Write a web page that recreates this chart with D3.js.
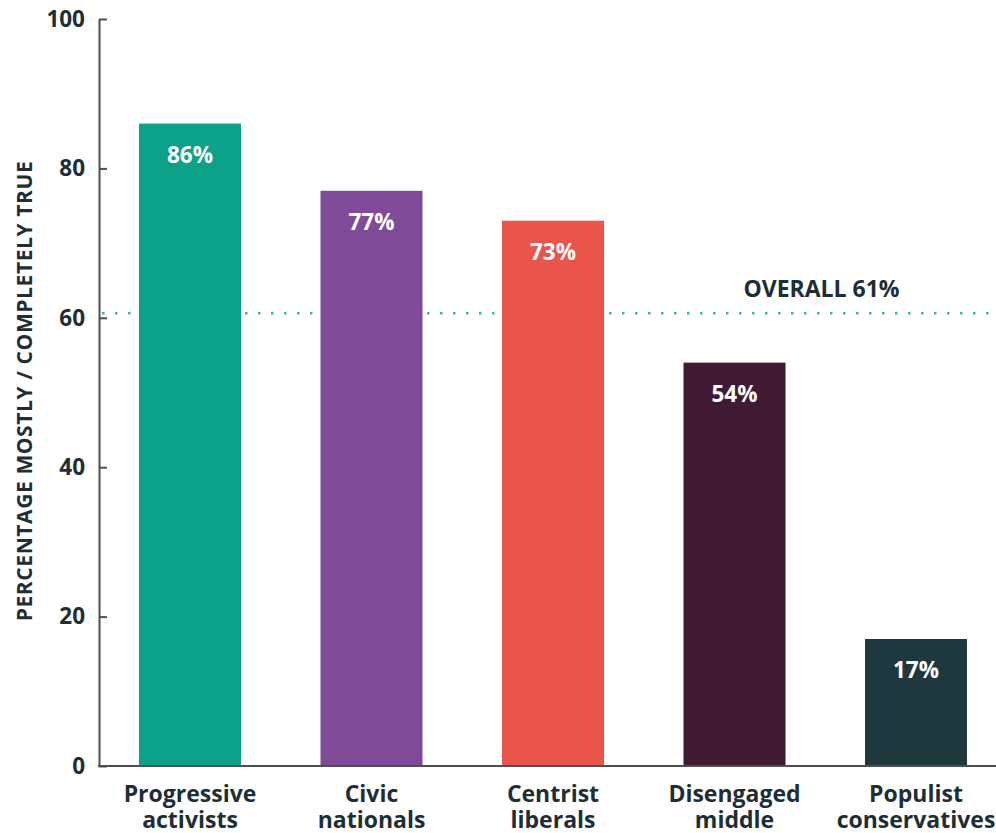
<!DOCTYPE html>
<html>
<head>
<meta charset="utf-8">
<script src="https://cdn.jsdelivr.net/npm/d3@7"></script>
<style>
  html, body { margin: 0; padding: 0; background: #fff; }
  svg { display: block; font-family: "Open Sans", "Noto Sans", sans-serif; }
</style>
</head>
<body>
<svg id="chart" width="996" height="833"></svg>
<script>
const categories = ["Progressive activists", "Civic nationals", "Centrist liberals", "Disengaged middle", "Populist conservatives"];
const labelLines = [["Progressive", "activists"], ["Civic", "nationals"], ["Centrist", "liberals"], ["Disengaged", "middle"], ["Populist", "conservatives"]];
const values = [86, 77, 73, 54, 17];
const colors = ["#0ca189", "#7f4a97", "#ea554b", "#3f1a32", "#1f383e"];
const yTicks = [0, 20, 40, 60, 80, 100];
const overall = 60.6;
const overallLabel = "OVERALL 61%";
const yTitle = "PERCENTAGE MOSTLY / COMPLETELY TRUE";

const textColor = "#1e2e34";
const svg = d3.select("#chart");

const y = d3.scaleLinear().domain([0, 100]).range([766, 19]);
const x = d3.scaleBand().domain(categories)
  .range([99.25, 1006.75]).paddingInner(0.438).paddingOuter(0.219);

// overall dotted line (behind bars)
svg.append("line")
  .attr("x1", 102).attr("x2", 996)
  .attr("y1", y(overall)).attr("y2", y(overall))
  .attr("stroke", "#3db3a1").attr("stroke-width", 2.5)
  .attr("stroke-dasharray", "2.5,10.5");

// bars
svg.selectAll("rect.bar").data(values).join("rect")
  .attr("class", "bar")
  .attr("x", (d, i) => x(categories[i]))
  .attr("width", x.bandwidth())
  .attr("y", d => y(d))
  .attr("height", d => y(0) - y(d))
  .attr("fill", (d, i) => colors[i]);

// value labels
svg.selectAll("text.val").data(values).join("text")
  .attr("class", "val")
  .attr("x", (d, i) => x(categories[i]) + x.bandwidth() / 2)
  .attr("y", d => y(d) + 39)
  .attr("text-anchor", "middle")
  .attr("fill", "#fff")
  .attr("font-weight", 700)
  .attr("font-size", 22.5)
  .text(d => d + "%");

// y axis
const yAxis = d3.axisLeft(y).tickValues(yTicks).tickSize(-8).tickSizeOuter(0).tickPadding(14);
const gy = svg.append("g").attr("transform", "translate(99,0)").call(yAxis);
gy.select(".domain").attr("stroke", "#4b5052").attr("stroke-width", 2);
gy.selectAll(".tick line").attr("stroke", "#4b5052").attr("stroke-width", 2);
gy.selectAll(".tick text").attr("fill", textColor).attr("font-size", 22.5).attr("font-weight", 700)
  .attr("font-family", "'Open Sans', sans-serif");

// x axis baseline
const xAxis = d3.axisBottom(x).tickSize(0).tickSizeOuter(0).tickFormat("");
const gx = svg.append("g").attr("transform", `translate(0,${y(0)})`).call(xAxis);
gx.select(".domain").attr("stroke", "#4b5052").attr("stroke-width", 2)
  .attr("d", `M98,0H996`);

// category labels
const cat = svg.selectAll("text.cat").data(labelLines).join("text")
  .attr("class", "cat")
  .attr("text-anchor", "middle")
  .attr("fill", textColor)
  .attr("font-weight", 700)
  .attr("font-size", 23);
cat.each(function(lines, i) {
  const t = d3.select(this);
  lines.forEach((l, j) => {
    t.append("tspan")
      .attr("x", x(categories[i]) + x.bandwidth() / 2)
      .attr("y", 802 + j * 26)
      .text(l);
  });
});

// overall label
svg.append("text")
  .attr("x", 821.5).attr("y", 297)
  .attr("text-anchor", "middle")
  .attr("fill", textColor)
  .attr("font-weight", 700)
  .attr("font-size", 23)
  .text(overallLabel);

// y title
svg.append("text")
  .attr("transform", "translate(32,391) rotate(-90)")
  .attr("text-anchor", "middle")
  .attr("fill", textColor)
  .attr("font-weight", 700)
  .attr("font-size", 21)
  .attr("letter-spacing", 0.6)
  .text(yTitle);
</script>
</body>
</html>
